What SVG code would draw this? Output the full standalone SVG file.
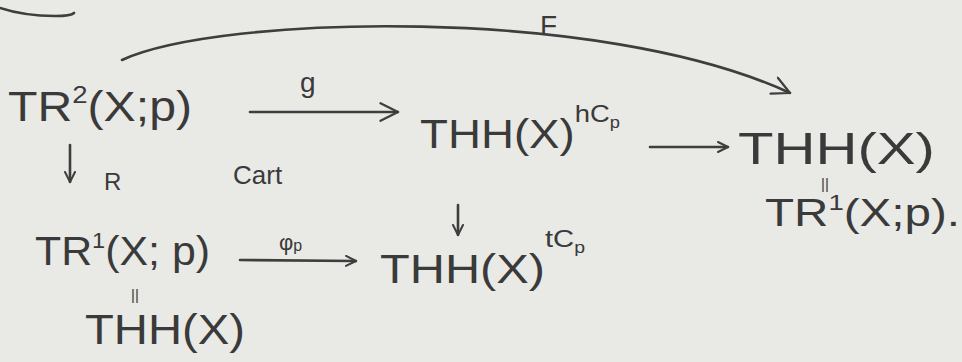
<svg xmlns="http://www.w3.org/2000/svg" width="962" height="362" viewBox="0 0 962 362">
  <style>
    .t { font-family: "Liberation Sans", "DejaVu Sans", sans-serif; fill: #3a3a3a; }
    .lbl { font-family: "Liberation Sans", "DejaVu Sans", sans-serif; fill: #3a3a3a; }
    .c { fill: none; stroke: #3e3e3e; stroke-width: 2.6; stroke-linecap: round; }
  </style>
  <defs>
    <marker id="ah" viewBox="0 0 12 12" refX="11" refY="6" markerWidth="12" markerHeight="12" markerUnits="userSpaceOnUse" orient="auto">
      <path d="M1,1 L11,6 L1,11" fill="none" stroke="#3e3e3e" stroke-width="2" stroke-linecap="round" stroke-linejoin="round"/>
    </marker>
    <marker id="ahL" viewBox="0 0 16 16" refX="15" refY="8" markerWidth="20" markerHeight="20" markerUnits="userSpaceOnUse" orient="auto">
      <path d="M1,1 L15,8 L1,15" fill="none" stroke="#3e3e3e" stroke-width="1.8" stroke-linecap="round" stroke-linejoin="round"/>
    </marker>
  </defs>
  <rect width="962" height="362" fill="#e9e9e6"/>
  <path class="c" d="M0,8 C 15,13 35,16 55,16 C 65,16 72,15 74,13"/>

  <g id="connectors">
    <path class="c" d="M122,60 C 220,15 600,5 790,93" marker-end="url(#ahL)"/>
    <text class="lbl" x="540" y="35" font-size="28">F</text>
    <path class="c" d="M250,112 L398,112" marker-end="url(#ahL)"/>
    <text class="lbl" x="300" y="92" font-size="28">g</text>
    <path class="c" d="M650,147 L728,147" marker-end="url(#ah)"/>
    <path class="c" d="M70,145 L70,182" marker-end="url(#ah)"/>
    <text class="lbl" x="104" y="190" font-size="24">R</text>
    <text class="lbl" x="233" y="184" font-size="26">Cart</text>
    <path class="c" d="M458,205 L458,235" marker-end="url(#ah)"/>
    <path class="c" d="M240,260 L356,261" marker-end="url(#ah)"/>
    <text class="lbl" x="279" y="250" font-size="22">φ<tspan font-size="16" dy="1">p</tspan></text>
  </g>

  <g id="n_tr2">
    <text class="t" x="8" y="121" font-size="42" textLength="184" lengthAdjust="spacingAndGlyphs">TR<tspan font-size="24" dy="-18">2</tspan><tspan dy="18">(X;p)</tspan></text>
  </g>
  <g id="n_thh_hcp">
    <text class="t" x="420" y="148" font-size="40" textLength="200" lengthAdjust="spacingAndGlyphs">THH(X)<tspan font-size="24" dy="-26">hC</tspan><tspan font-size="16" dy="6">p</tspan></text>
  </g>
  <g id="n_thh_right">
    <text class="t" x="738" y="164" font-size="44" textLength="197" lengthAdjust="spacingAndGlyphs">THH(X)</text>
    <text class="t" x="821" y="189" font-size="15">||</text>
    <text class="t" x="765" y="226" font-size="38" textLength="195" lengthAdjust="spacingAndGlyphs">TR<tspan font-size="22" dy="-16">1</tspan><tspan dy="16">(X;p).</tspan></text>
  </g>
  <g id="n_tr1">
    <text class="t" x="35" y="265" font-size="40" textLength="175" lengthAdjust="spacingAndGlyphs">TR<tspan font-size="22" dy="-17">1</tspan><tspan dy="17">(X; p)</tspan></text>
    <text class="t" x="131" y="300" font-size="15">||</text>
    <text class="t" x="85" y="344" font-size="42" textLength="160" lengthAdjust="spacingAndGlyphs">THH(X)</text>
  </g>
  <g id="n_thh_tcp">
    <text class="t" x="380" y="283" font-size="40" textLength="205" lengthAdjust="spacingAndGlyphs">THH(X)<tspan font-size="24" dy="-36">tC</tspan><tspan font-size="16" dy="6">p</tspan></text>
  </g>
</svg>
